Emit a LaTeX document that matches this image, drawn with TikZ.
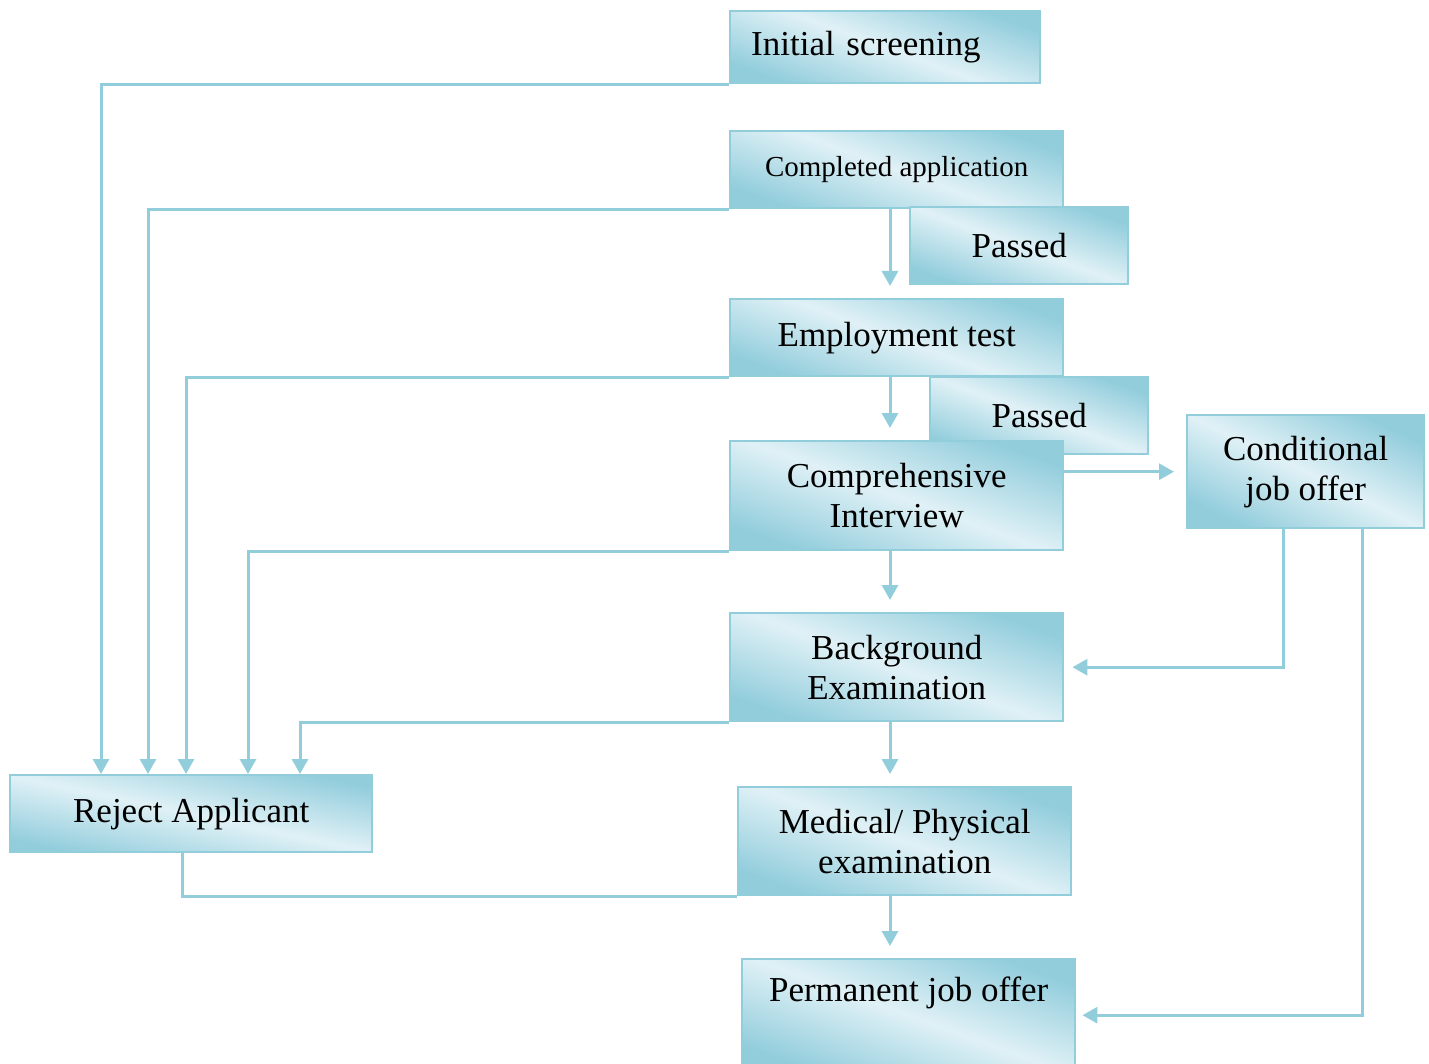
\documentclass[tikz,border=0pt]{standalone}
\usepackage{fontspec}
\setmainfont{Liberation Serif}
\usepackage{tikz}
\usetikzlibrary{arrows.meta, calc, positioning}
\definecolor{flowline}{RGB}{146,205,220}
\definecolor{boxdark}{RGB}{146,205,220}
\definecolor{boxlight}{RGB}{224,241,246}

\begin{document}
\begin{tikzpicture}[x=0.5pt, y=-0.5pt, font=\fontsize{17.5}{20}\selectfont]
\tikzset{box/.style={draw=flowline, line width=1.2pt, top color=boxdark, bottom color=boxdark,
    middle color=boxlight, shading angle=-20, inner sep=0pt, anchor=north west, align=center},
  flow/.style={draw=flowline, line width=1.5pt, -{Triangle[width=8pt,length=7.5pt]}},
  link/.style={draw=flowline, line width=1.5pt}}
  \useasboundingbox (0,0) rectangle (1429,1064);

  % main column
  \node [box, minimum width=155pt, minimum height=36pt, text width=134pt, align=left] (IS) at (729,10) {Initial screening};
  \node [box, minimum width=166.5pt, minimum height=38.5pt, font=\fontsize{14.5}{17}\selectfont] (CA) at (729,130) {Completed application};
  \node [box, minimum width=109pt, minimum height=38.5pt] (P0) at (909,206) {Passed};
  \node [box, minimum width=166.5pt, minimum height=38.5pt] (ET) at (729,298) {Employment test};
  \node [box, minimum width=109pt, minimum height=38.5pt] (P1) at (929,376) {Passed};
  \node [box, minimum width=166.5pt, minimum height=54.5pt] (CI) at (729,440) {Comprehensive\\Interview};
  \node [box, minimum width=118.5pt, minimum height=56.5pt, shading angle=-26] (CJ) at (1186,414) {Conditional\\job offer};
  \node [box, minimum width=166.5pt, minimum height=54pt] (BE) at (729,612) {Background\\Examination};
  \node [box, minimum width=166.5pt, minimum height=54pt] (ME) at (737,786) {Medical/ Physical\\examination};
  \node [box, minimum width=166.5pt, text height=21pt, text depth=35pt] (PJ) at (741,958) {Permanent job offer};
  \node [box, minimum width=181pt, minimum height=38.5pt, shading angle=-12] (RA) at (9,774) {Reject Applicant};

  % rejections
  \foreach \n/\dx in {IS/92, CA/139, ET/177, CI/239, BE/291}
    \draw[flow] (\n.south west) -| ($(RA.north west)+(\dx,0)$);
  \draw[link] ($(RA.south west)+(173,0)$) |- (ME.south west);

  % passing down
  \coordinate (spine) at (890,0);
  \foreach \a/\b in {CA/ET, ET/CI, CI/BE, BE/ME, ME/PJ}
    \draw[flow, shorten >=6pt] (\a.south -| spine) -- (\b.north -| spine);

  \draw[flow, shorten >=6pt] (CI.east |- CJ.west) -- (CJ.west);
  \draw[flow, shorten >=4pt] ($(CJ.south)+(-22,0)$) |- (BE.east);
  \draw[flow, shorten >=3pt] ($(CJ.south)+(57,0)$) |- (PJ.east);
\end{tikzpicture}
\end{document}
